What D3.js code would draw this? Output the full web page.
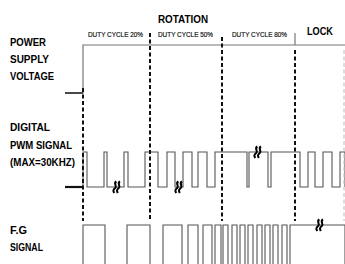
<!DOCTYPE html>
<html><head><meta charset="utf-8">
<script src="https://cdn.jsdelivr.net/npm/d3@7"></script>
<style>html,body{margin:0;padding:0;background:#fff;}svg{display:block;}</style>
</head><body>
<script>
// ---- data (time units) ----
const sectionBounds = [0, 67, 139, 212];
const lockEnd = 261;
const sectionLabels = ["DUTY CYCLE 20%", "DUTY CYCLE 50%", "DUTY CYCLE 80%"];
const sectionLabelStarts = [5, 75, 149];
const pwmHighs = [[0,4],[21,24],[41,45],[62,75],[84,92],[100,109],[115,124],[132,164],[166,185],[188,217],[225,232],[240,249],[257,262]];
const fgHighs = [[0,22],[44,67],[80,99],[105,115],[120,129],[132,138],[140,145],[149,154],[157,162],[165,170],[174,179],[182,187],[190,195],[199,204],[207,262]];
const breakMarks = [{t:34, sig:"pwm", lvl:0},{t:96, sig:"pwm", lvl:0},{t:175, sig:"pwm", lvl:1},{t:237, sig:"fg", lvl:1}];
const signalNames = [
  {sig:"power", lines:["POWER","SUPPLY","VOLTAGE"]},
  {sig:"pwm", lines:["DIGITAL","PWM SIGNAL","(MAX=30KHZ)"]},
  {sig:"fg", lines:["F.G","SIGNAL"]}
];

const W = 345, H = 264;
const svg = d3.select("body").append("svg").attr("width", W).attr("height", H);
const x = d3.scaleLinear().domain([-18, 262]).range([65, 345]);
const levels = {power: d3.scaleLinear().domain([0,1]).range([93,45]),
                pwm: d3.scaleLinear().domain([0,1]).range([187,152]),
                fg: d3.scaleLinear().domain([0,1]).range([271,225])};

function wave(highs, t0, t1) {
  const pts = [[t0, 0]];
  highs.forEach(([a,b]) => { pts.push([a,1]); pts.push([b,0]); });
  pts.push([t1, pts[pts.length-1][1]]);
  return pts;
}
const lineFor = sig => d3.line().curve(d3.curveStepAfter).x(d => x(d[0])).y(d => levels[sig](d[1]));

// labels
const font = "Liberation Sans, Arial, sans-serif";
const labelMeta = {power:{y:[46,63,80], w:[36,39,44]}, pwm:{y:[131,149,166], w:[40,62,65]}, fg:{y:[234,251], w:[17,33]}};
signalNames.forEach(s => {
  s.lines.forEach((txt, i) => {
    svg.append("text").attr("x", 10).attr("y", labelMeta[s.sig].y[i])
      .attr("font-family", font).attr("font-weight", "bold").attr("font-size", 11.3)
      .attr("textLength", labelMeta[s.sig].w[i]).attr("lengthAdjust", "spacingAndGlyphs")
      .attr("fill", "#000").text(txt);
  });
});
svg.append("text").attr("x", x(75)).attr("y", 23).attr("font-family", font).attr("font-weight","bold")
  .attr("font-size", 11.3).attr("textLength", 50).attr("lengthAdjust","spacingAndGlyphs").attr("fill","#000").text("ROTATION");
svg.append("text").attr("x", x(224)).attr("y", 35).attr("font-family", font).attr("font-weight","bold")
  .attr("font-size", 11.5).attr("textLength", 26).attr("lengthAdjust","spacingAndGlyphs").attr("fill","#000").text("LOCK");
sectionLabels.forEach((l, i) => {
  svg.append("text").attr("x", x(sectionLabelStarts[i])).attr("y", 37).attr("font-family", font)
    .attr("font-size", 7.5).attr("textLength", 55).attr("lengthAdjust","spacingAndGlyphs")
    .attr("stroke","#222").attr("stroke-width",0.2).attr("fill","#111").text(l);
});

// power supply
svg.append("path").attr("d", lineFor("power")([[-18,0],[0,1],[262,1]]))
  .attr("fill","none").attr("stroke","#777").attr("stroke-width",1.2);
svg.append("line").attr("x1", x(-18)).attr("x2", x(0)).attr("y1", levels.power(0)).attr("y2", levels.power(0))
  .attr("stroke","#222").attr("stroke-width",1.5);
svg.append("line").attr("x1", x(212)).attr("x2", x(212)).attr("y1", 33).attr("y2", levels.power(1))
  .attr("stroke","#777").attr("stroke-width",1.2);

// PWM
svg.append("path").attr("d", lineFor("pwm")(wave(pwmHighs, 0, 262)))
  .attr("fill","none").attr("stroke","#555").attr("stroke-width",1.1);
svg.append("line").attr("x1", x(-18)).attr("x2", x(0)).attr("y1", levels.pwm(0)).attr("y2", levels.pwm(0))
  .attr("stroke","#111").attr("stroke-width",2.2);

// FG
svg.append("path").attr("d", lineFor("fg")(wave(fgHighs, 0, 262)))
  .attr("fill","none").attr("stroke","#555").attr("stroke-width",1.1);

// dashed section boundaries
const dashTops = [88, 33, 37, 50];
sectionBounds.forEach((t, i) => {
  svg.append("line").attr("x1", x(t)).attr("x2", x(t)).attr("y1", dashTops[i]).attr("y2", 221)
    .attr("stroke","#111").attr("stroke-width",2).attr("stroke-dasharray","4,2.5");
});
svg.append("line").attr("x1", x(lockEnd)).attr("x2", x(lockEnd)).attr("y1", 50).attr("y2", 221)
  .attr("stroke","#bbb").attr("stroke-width",1).attr("stroke-dasharray","4,2.5");

// break marks
breakMarks.forEach(b => {
  const cx = x(b.t), cy = levels[b.sig](b.lvl);
  const g = svg.append("g").attr("transform", `translate(${cx},${cy})`);
  [-1.8, 1.8].forEach(dx => {
    g.append("path").attr("d", `M${dx+1.2},-5.5 C${dx-2.5},-3.5 ${dx+2.5},-1 ${dx},1 S${dx-2},4 ${dx-1},6`)
      .attr("fill","none").attr("stroke","#000").attr("stroke-width",2);
  });
});
</script>
</body></html>
